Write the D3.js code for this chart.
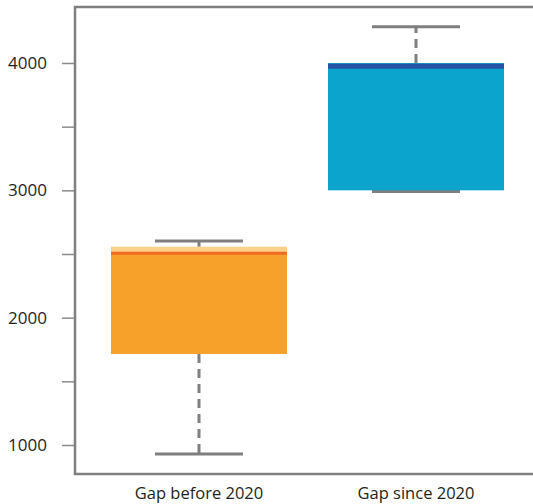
<!DOCTYPE html>
<html><head><meta charset="utf-8">
<script src="https://cdn.jsdelivr.net/npm/d3@7"></script>
<style>body{margin:0;background:#fff;} svg{display:block;}</style>
</head><body>
<svg id="c" width="533" height="504"></svg>
<script>
const categories = ["Gap before 2020", "Gap since 2020"];
const whiskerLow = [929, 2990];
const q1 = [1715, 3000];
const median = [2506, 3975];
const q3 = [2557, 4000];
const whiskerHigh = [2603, 4285];
const tickValues = [1000, 1500, 2000, 2500, 3000, 3500, 4000];
const tickLabels = ["1000", "", "2000", "", "3000", "", "4000"];
const fillMain = ["#F8A12A", "#0AA4CC"];
const fillUpper = ["#FDD08A", "#0AA4CC"];
const medianColor = ["#F26A22", "#2553A5"];

(function () {
const svg = d3.select("#c");
const y = d3.scaleLinear().domain([1000, 4000]).range([445, 63]);
const x = d3.scaleBand().domain(categories).range([111, 504]).paddingInner(0.189).paddingOuter(0);
const bw = x.bandwidth();
const gray = "#7f7f7f";
const font = "'Open Sans', sans-serif";

const data = categories.map((c, i) => ({c, i, lo: whiskerLow[i], q1: q1[i], med: median[i], q3: q3[i], hi: whiskerHigh[i]}));

const fl = 75, ft = 7, fb = 474;
svg.append("path").attr("d", `M540,${ft}H${fl}V${fb}H540`).attr("fill", "none").attr("stroke", gray).attr("stroke-width", 2.5);

const axis = d3.axisLeft(y).tickValues(tickValues).tickSize(12).tickPadding(15).tickFormat((d, i) => tickLabels[i]);
const ga = svg.append("g").attr("transform", `translate(${fl - 1},0)`).call(axis);
ga.select(".domain").remove();
ga.selectAll(".tick line").attr("stroke", "#8a8a8a").attr("stroke-width", 1.5);
ga.selectAll(".tick text").attr("font-family", font).attr("font-size", 17).attr("fill", "#231f20");

const g = svg.append("g");
data.forEach(d => {
  const cx = x(d.c) + bw / 2;
  const capW = bw / 2;
  g.append("line").attr("x1", cx).attr("x2", cx).attr("y1", y(d.q3)).attr("y2", y(d.hi))
    .attr("stroke", gray).attr("stroke-width", 3).attr("stroke-dasharray", "9,6");
  g.append("line").attr("x1", cx).attr("x2", cx).attr("y1", y(d.q1)).attr("y2", y(d.lo))
    .attr("stroke", gray).attr("stroke-width", 3).attr("stroke-dasharray", "9,6");
  [d.lo, d.hi].forEach(v => {
    g.append("line").attr("x1", cx - capW / 2).attr("x2", cx + capW / 2).attr("y1", y(v)).attr("y2", y(v))
      .attr("stroke", gray).attr("stroke-width", 3);
  });
  g.append("rect").attr("x", x(d.c)).attr("width", bw).attr("y", y(d.med)).attr("height", y(d.q1) - y(d.med)).attr("fill", fillMain[d.i]);
  g.append("rect").attr("x", x(d.c)).attr("width", bw).attr("y", y(d.q3)).attr("height", y(d.med) - y(d.q3)).attr("fill", fillUpper[d.i]);
  g.append("line").attr("x1", x(d.c)).attr("x2", x(d.c) + bw).attr("y1", y(d.med)).attr("y2", y(d.med))
    .attr("stroke", medianColor[d.i]).attr("stroke-width", d.i === 0 ? 3 : 5);
});

svg.append("g").selectAll("text").data(categories).join("text")
  .attr("x", c => x(c) + bw / 2).attr("y", 499).attr("text-anchor", "middle")
  .attr("font-family", font).attr("font-size", 16.5).attr("fill", "#231f20").text(c => c);
})();
</script>
</body></html>
